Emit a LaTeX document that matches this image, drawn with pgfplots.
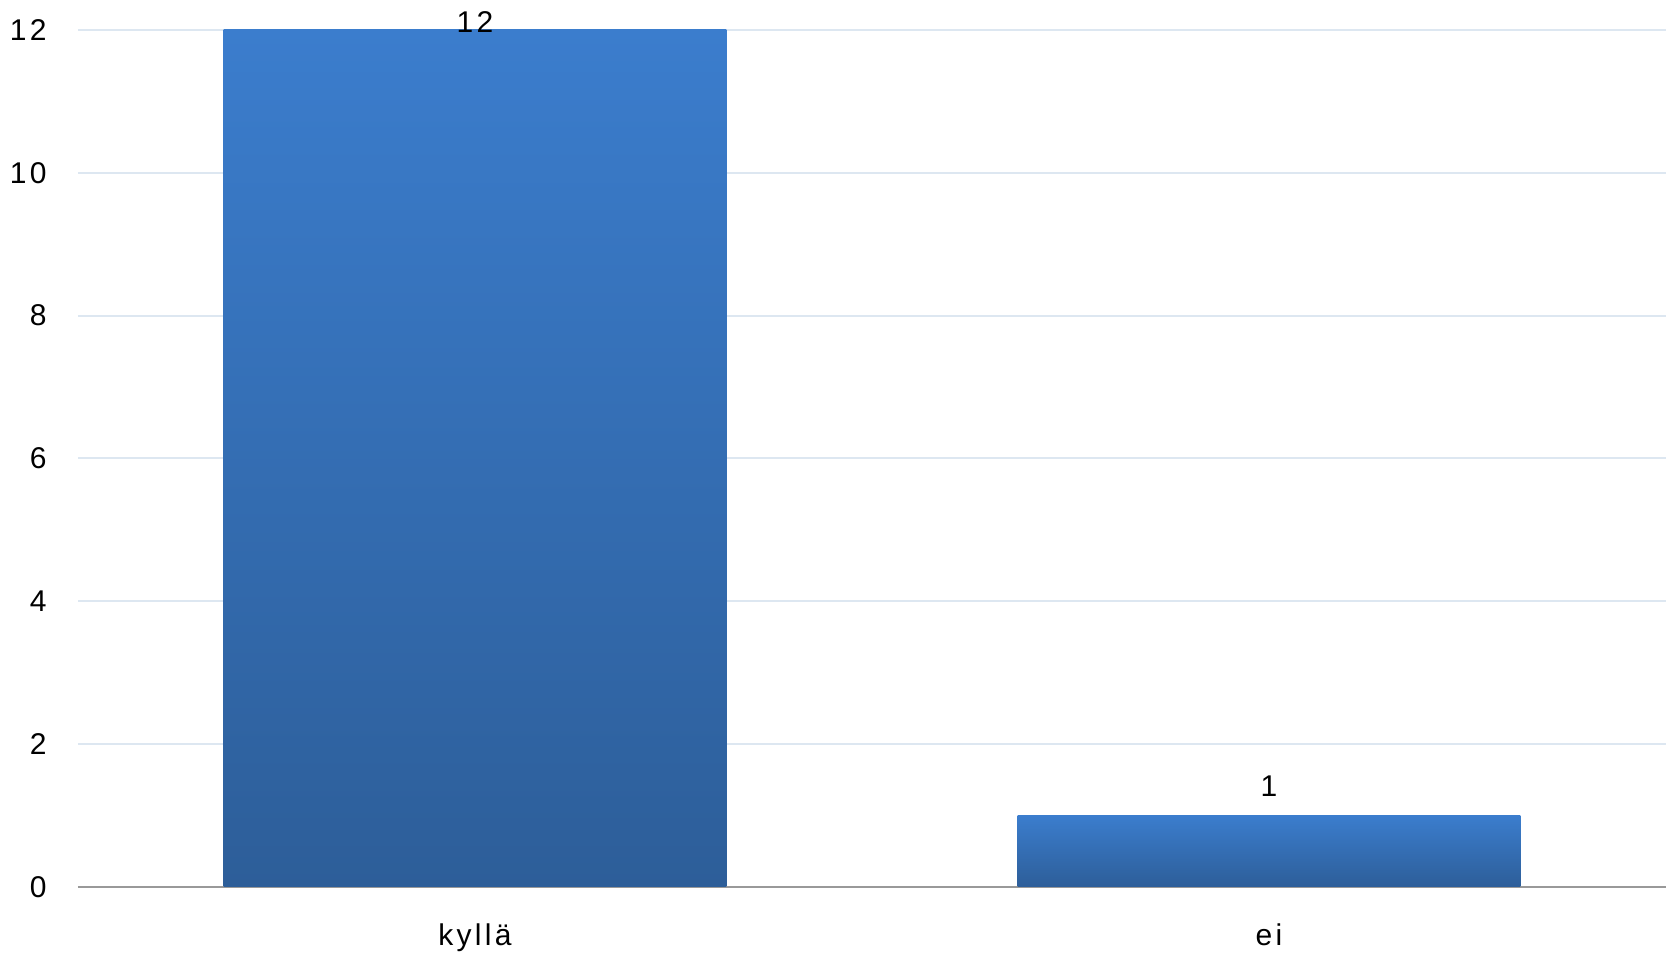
\documentclass[border=0pt]{standalone}
\usepackage{fontspec}
\setmainfont{Liberation Sans}[LetterSpace=11]
\usepackage{pgfplots}
\pgfplotsset{compat=1.18}
\definecolor{bartop}{HTML}{3B7DCD}
\definecolor{barbot}{HTML}{2D5E99}
\definecolor{gridc}{HTML}{DDE7F1}
\definecolor{basec}{HTML}{999999}
\begin{document}
\fontsize{9pt}{11pt}\selectfont
\begin{tikzpicture}
\begin{axis}[
  name=ax,
  width=476.4pt, height=257.1pt, scale only axis,
  xmin=-0.5, xmax=1.5, ymin=0, ymax=12,
  xtick={0,1}, xticklabels={kyllä,ei},
  ytick={0,2,...,12},
  axis x line*=bottom, axis y line*=left,
  y axis line style={draw=none},
  x axis line style={basec, thick, -},
  ymajorgrids, grid style={gridc, line width=0.6pt},
  major tick length=0pt,
  tick label style={font=\fontsize{9pt}{11pt}\selectfont},
  /pgf/number format/assume math mode=true,
  xticklabel style={yshift=-7.7pt},
  yticklabel style={xshift=-6.2pt},
  ybar, bar width=0.633, bar shift=0pt,
  clip=false,
]
\addplot[draw=none, top color=bartop, bottom color=barbot,
  nodes near coords, nodes near coords style={anchor=south, yshift=-4pt, black}]
  coordinates {(0,12)};
\addplot[draw=none, top color=bartop, bottom color=barbot,
  nodes near coords, nodes near coords style={anchor=south, yshift=2.5pt, black}]
  coordinates {(1,1)};
\end{axis}
\pgfresetboundingbox
\path[use as bounding box] ([shift={(-23.4pt,-19.8pt)}]ax.south west) rectangle ([shift={(2.7pt,9pt)}]ax.north east);
\end{tikzpicture}
\end{document}
